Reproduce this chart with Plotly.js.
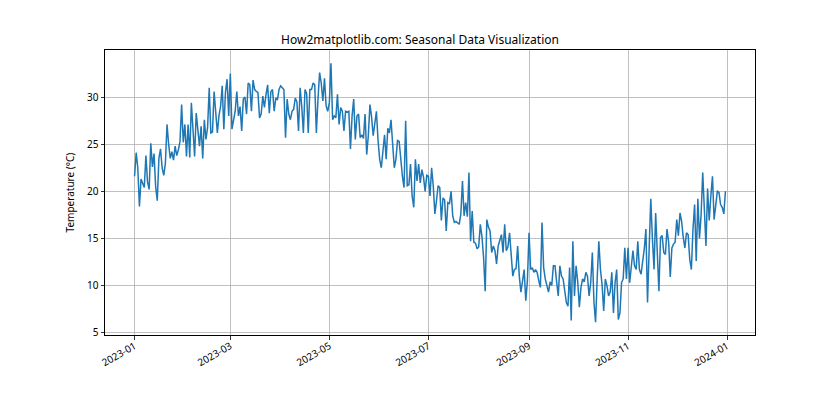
<!DOCTYPE html>
<html>
<head>
<meta charset="utf-8">
<script src="https://cdn.plot.ly/plotly-3.0.1.min.js"></script>
<style>html,body{margin:0;padding:0;background:#fff;}#chart{width:840px;height:420px;}</style>
</head>
<body>
<div id="chart"></div>
<script>
const startDate = "2023-01-01";
const jan = [21.6,24.1,22.5,18.4,21.3,20.9,20.4,23.8,21.0,20.2,25.1,22.6,24.0,20.5,19.0,23.5,24.5,22.5,21.7,23.0,27.1,25.0,23.5,24.2,23.3,24.8,23.8,24.4,25.3,29.2,25.2];
const feb = [27.1,23.7,27.1,23.6,29.4,27.0,23.7,28.3,26.5,24.8,26.9,23.5,27.6,25.5,26.8,31.0,26.2,26.3,30.6,28.2,26.2,28.0,29.0,31.2,26.6,30.5,31.9,28.0];
const mar = [32.5,26.6,27.5,28.5,30.6,28.0,29.0,26.4,29.8,30.0,28.2,31.5,31.3,28.5,31.8,30.8,30.6,30.5,27.8,28.2,30.1,28.9,30.3,31.3,28.3,30.6,30.8,28.5,29.9,29.7,30.8];
const apr = [31.2,31.0,30.8,25.7,29.8,28.2,27.6,28.5,28.7,29.9,29.5,26.4,31.0,29.0,26.2,30.8,30.4,26.2,30.8,30.8,31.5,31.3,26.2,29.8,32.6,31.5,29.6,32.0,29.1,28.5];
const may = [29.4,33.6,27.6,28.0,27.8,30.3,27.1,28.9,28.5,26.4,28.5,28.4,28.5,24.5,28.0,29.8,25.5,28.0,28.2,25.7,26.0,25.6,28.2,23.9,25.9,29.2,27.9,25.9,27.0,28.5,25.4];
const jun = [23.4,22.5,24.5,26.0,23.4,26.7,26.2,27.6,25.0,22.5,23.4,25.4,25.3,23.0,21.6,20.4,27.5,20.6,20.7,22.9,19.5,18.3,23.4,21.1,22.9,20.9,22.3,21.5,20.0,21.7];
const jul = [21.6,19.5,22.5,20.6,17.6,19.0,20.6,20.4,16.9,19.3,19.1,15.8,18.8,18.7,20.0,17.4,16.7,16.8,16.6,16.5,17.6,21.1,17.4,18.8,17.3,22.0,14.7,17.9,14.6,14.5,13.9];
const aug = [14.1,16.5,15.2,13.0,9.4,17.0,16.2,15.8,13.5,14.2,13.7,12.3,14.2,14.8,15.4,13.5,16.5,13.7,14.1,15.6,13.0,11.0,11.7,11.8,14.2,11.0,9.3,10.5,11.7,8.4,10.5];
const sep = [15.6,11.7,11.9,11.4,11.7,11.4,10.5,9.8,16.7,11.9,10.7,10.1,9.3,10.4,10.0,12.1,12.1,10.4,8.9,12.1,11.0,10.7,9.6,8.2,7.8,11.9,6.3,14.7,8.9,12.1];
const oct = [10.4,7.7,9.8,10.7,10.4,11.4,11.0,8.9,10.3,13.5,8.2,6.1,10.8,14.7,11.7,10.1,7.3,10.7,10.0,8.9,9.3,11.4,7.1,10.3,11.7,6.4,7.1,10.3,10.7,14.0,10.7];
const nov = [14.0,10.3,12.4,13.7,12.1,11.7,14.7,11.7,11.2,12.4,13.9,16.0,8.2,13.9,19.2,15.0,11.7,17.7,13.2,9.4,15.1,15.3,13.5,13.3,16.0,14.6,10.9,14.0,14.4,14.6];
const dec = [17.0,15.3,17.7,16.8,15.1,14.0,15.6,15.4,12.8,11.7,16.0,18.6,12.6,19.2,15.0,17.5,22.0,18.8,14.2,20.3,16.9,19.5,21.6,17.0,18.6,20.0,19.9,18.6,18.3,17.6,20.0];
const tickVals = ["2023-01-01","2023-03-01","2023-05-01","2023-07-01","2023-09-01","2023-11-01","2024-01-01"];
const tickText = ["2023-01","2023-03","2023-05","2023-07","2023-09","2023-11","2024-01"];

const temps = [].concat(jan,feb,mar,apr,may,jun,jul,aug,sep,oct,nov,dec);
const t0 = Date.parse(startDate + "T00:00:00Z");
const dates = temps.map((_, i) => new Date(t0 + i*86400000).toISOString().slice(0,10));

const font = "Noto Sans, DejaVu Sans, sans-serif";
const axisCommon = {
  showline: true, linecolor: "#000", linewidth: 1, mirror: true,
  showgrid: true, gridcolor: "#b0b0b0", gridwidth: 0.8,
  ticks: "outside", ticklen: 3.5, tickwidth: 0.8, tickcolor: "#000",
  zeroline: false, tickfont: {family: font, size: 10, color: "#000"}
};
const d0 = new Date(t0 - 18.2*86400000).toISOString();
const d1 = new Date(t0 + 382.2*86400000).toISOString();

Plotly.newPlot("chart", [{
  x: dates, y: temps, type: "scatter", mode: "lines",
  line: {color: "#1f77b4", width: 1.5}, hoverinfo: "skip"
}], {
  width: 840, height: 420,
  margin: {l: 105, r: 85, t: 50, b: 85},
  paper_bgcolor: "#fff", plot_bgcolor: "#fff",
  showlegend: false,
  title: {text: "How2matplotlib.com: Seasonal Data Visualization", font: {family: font, size: 12, color: "#000"}, x: 0.5, xanchor: "center", y: 1 - 40/420, yanchor: "middle"},
  xaxis: Object.assign({}, axisCommon, {type: "date", range: [d0, d1], tickvals: tickVals, ticktext: tickText, tickangle: -30, ticklabelstandoff: -3}),
  yaxis: Object.assign({}, axisCommon, {range: [4.75, 35.0], tickvals: [5,10,15,20,25,30],
    title: {text: "Temperature (°C)", font: {family: font, size: 10, color: "#000"}, standoff: 10}})
}, {staticPlot: true});
</script>
</body>
</html>
